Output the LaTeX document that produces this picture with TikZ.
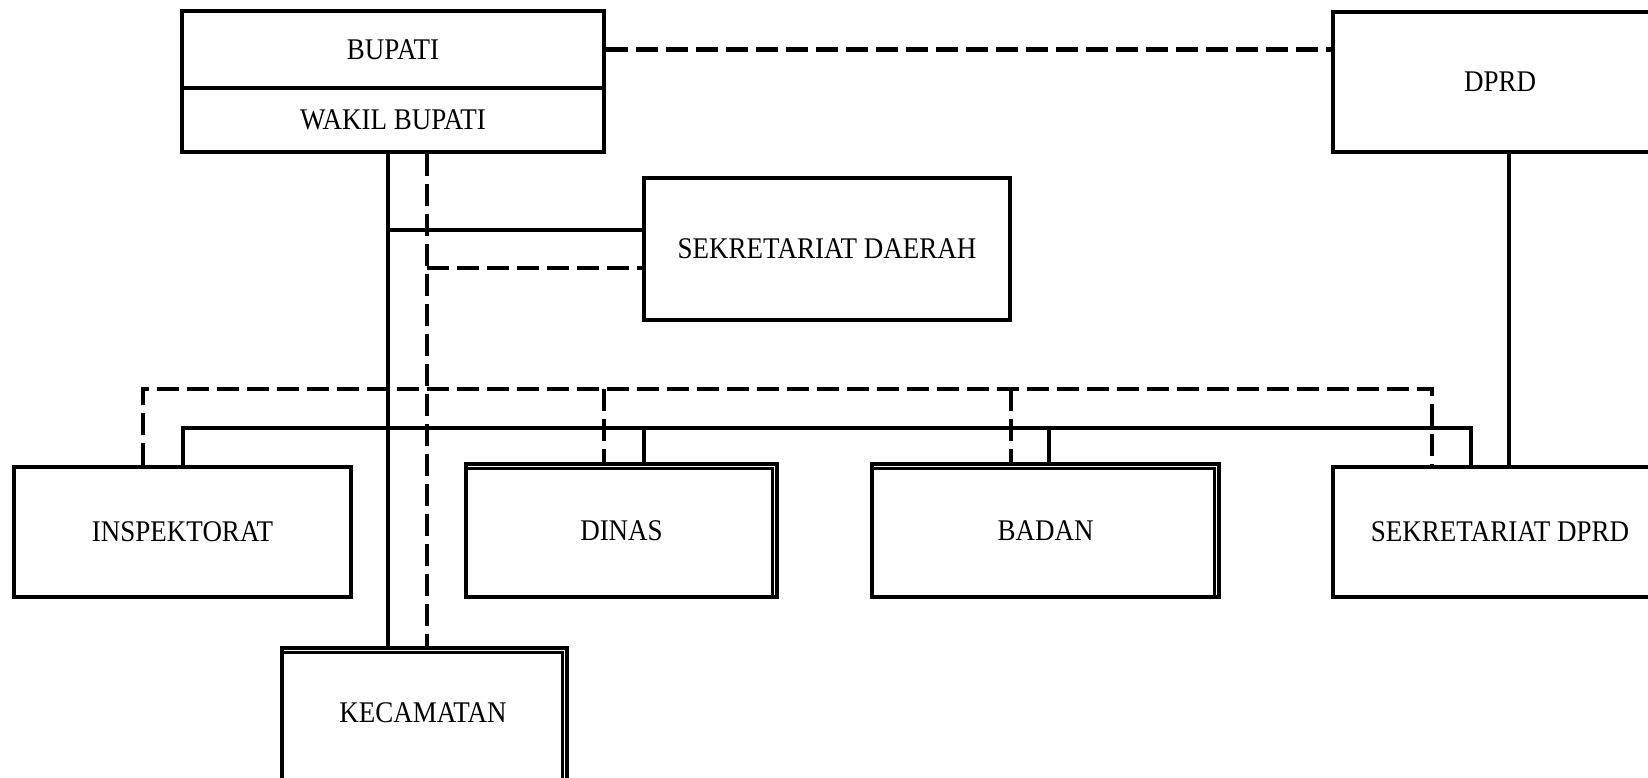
\documentclass[tikz,border=0pt]{standalone}
\usepackage{fontspec}
\setmainfont[FakeStretch=0.9]{Liberation Serif}
\begin{document}
\begin{tikzpicture}[x=0.5pt,y=-0.5pt,
  box/.style={draw, line width=1.6pt, rectangle, inner sep=0pt,
              font=\fontsize{15}{18}\selectfont},
  lbl/.style={inner sep=0pt, font=\fontsize{15}{18}\selectfont},
  link/.style={line width=2.2pt},
  dlink/.style={line width=2.2pt, dash pattern=on 11pt off 4pt},
  inner line/.style={line width=1.6pt},
]
\useasboundingbox (0,0) rectangle (1648,777);
\clip (0,0) rectangle (1648,777);

% --- boxes ---
\node[box, minimum width=211pt, minimum height=38.5pt] (bupati) at (393,49.5) {BUPATI};
\node[box, minimum width=211pt, minimum height=32pt] (wakil) at (393,120) {WAKIL BUPATI};
\node[box, minimum width=167pt, minimum height=70pt] (dprd) at (1500,82) {DPRD};
\node[box, minimum width=183pt, minimum height=71pt] (sekda) at (827,249) {SEKRETARIAT DAERAH};
\node[box, minimum width=168.5pt, minimum height=65pt] (insp) at (182.5,532) {INSPEKTORAT};
\node[box, minimum width=155.5pt, minimum height=66.5pt] (dinas) at (621.5,530.5) {DINAS};
\node[box, minimum width=173.5pt, minimum height=66.5pt] (badan) at (1045.5,530.5) {BADAN};
\node[box, minimum width=167pt, minimum height=65pt] (setdprd) at (1500,532) {SEKRETARIAT DPRD};
\node[box, minimum width=142.5pt, minimum height=86pt] (kec) at (424.5,734) {};
\node[lbl] (kectext) at (423,713) {KECAMATAN};

% double borders on top and right side
\foreach \n in {dinas,badan,kec}
  \draw[inner line] ([yshift=-3pt]\n.north west) -| ([xshift=-3.2pt]\n.south east);

% --- anchor coordinates for the connector lines ---
\coordinate (svx) at (388,230);
\coordinate (dvx) at (427,268);
\coordinate (sI) at (183,428);
\coordinate (sE) at (1471,428);
\coordinate (sD) at (644,428);
\coordinate (sB) at (1049,428);
\coordinate (dI) at (143,389);
\coordinate (dE) at (1432,389);
\coordinate (dD) at (604,389);
\coordinate (dB) at (1011,389);
\coordinate (pv) at (1509,0);

% --- Bupati / DPRD ---
\draw[dlink] (bupati.east) -- (bupati.east -| dprd.west);

% --- main command line and coordination line ---
\draw[link] (wakil.south -| svx) -- (kec.north -| svx);
\draw[link] (svx) -- (svx -| sekda.west);
\draw[dlink] (wakil.south -| dvx) -- (kec.north -| dvx);
\draw[dlink] (dvx) -- (dvx -| sekda.west);

% --- solid bus to the agencies ---
\draw[link] (insp.north -| sI) -- (sI) -- (sE) -- (setdprd.north -| sE);
\draw[link] (sD) -- (dinas.north -| sD);
\draw[link] (sB) -- (badan.north -| sB);

% --- dashed bus to the agencies ---
\draw[dlink] (insp.north -| dI) -- (dI) -- (dE) -- (setdprd.north -| dE);
\draw[dlink] (dD) -- (dinas.north -| dD);
\draw[dlink] (dB) -- (badan.north -| dB);

% --- DPRD to its secretariat ---
\draw[link] (dprd.south -| pv) -- (setdprd.north -| pv);
\end{tikzpicture}
\end{document}
